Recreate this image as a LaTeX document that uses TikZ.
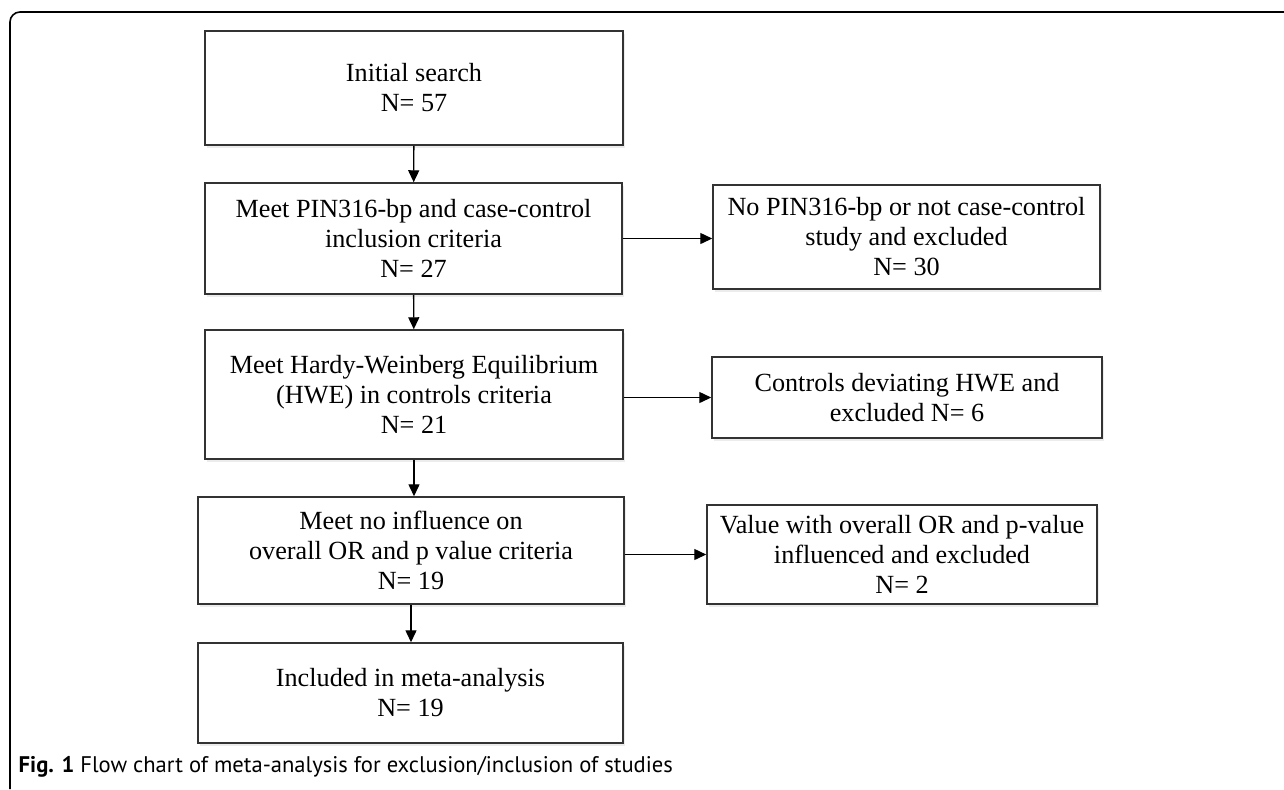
\documentclass[tikz,border=0pt]{standalone}
\usepackage{fontspec}
\setmainfont{Liberation Serif}
\setsansfont{PT Sans}
\usepackage{tikz}
\usetikzlibrary{arrows.meta,shadows}
\tikzset{
  fcnode/.style = {align=center, inner sep=0pt, text centered,
    font=\fontsize{13.1}{15}\selectfont},
  fc_main/.style = {fcnode, rectangle, draw=black!80, line width=0.75pt,
    fill=white, drop shadow={shadow xshift=1pt, shadow yshift=-1.5pt,
    opacity=0.15}},% etape retenue
  fc_excl/.style = {fc_main}% etape exclue
}
\begin{document}
\begin{tikzpicture}[x=0.5pt,y=-0.5pt,->,>={Triangle[length=6pt,width=5.5pt]},
  line width=0.7pt]
\useasboundingbox (0,0) rectangle (1284,789);
\draw[-, line width=0.8pt, rounded corners=5pt] (10,789) -- (10,12) -- (1284,12);

\node [fc_main, minimum width=209pt, minimum height=57pt] (init) at (414,88)
  {Initial search\\N= 57};
\node [fc_main, minimum width=208.5pt, minimum height=55.5pt] (meet1) at (413.5,238.5)
  {Meet PIN316-bp and case-control\\inclusion criteria\\N= 27};
\node [fc_excl, minimum width=193.5pt, minimum height=52pt] (excl1) at (906.5,237)
  {No PIN316-bp or not case-control\\study and excluded\\N= 30};
\node [fc_main, minimum width=209pt, minimum height=64.5pt] (meet2) at (414,394.5)
  {Meet Hardy-Weinberg Equilibrium\\(HWE) in controls criteria\\N= 21};
\node [fc_excl, minimum width=195pt, minimum height=40.5pt] (excl2) at (907,397.5)
  {Controls deviating HWE and\\excluded N= 6};
\node [fc_main, minimum width=213pt, minimum height=53.5pt] (meet3) at (411,550.5)
  {Meet no influence on\\overall OR and p value criteria\\N= 19};
\node [fc_excl, minimum width=195pt, minimum height=49.5pt] (excl3) at (902,554.5)
  {Value with overall OR and p-value\\influenced and excluded\\N= 2};
\node [fc_main, minimum width=212.5pt, minimum height=50pt] (incl) at (410.5,693)
  {Included in meta-analysis\\N= 19};

\draw (init) -- (meet1);
\draw (meet1) -- (meet2);
\draw (meet2) -- (meet2 |- meet3.north);
\draw (meet3) -- (meet3 |- incl.north);
\draw (meet1) -- (meet1 -| excl1.west);
\draw (excl2 -| meet2.east) -- (excl2);
\draw (excl3 -| meet3.east) -- (excl3);

\node [anchor=west, inner sep=0pt, font=\sffamily\fontsize{11.3}{13}\selectfont] (cap)
  at (18,767) {\textbf{Fig. 1} Flow chart of meta-analysis for exclusion/inclusion of studies};
\end{tikzpicture}
\end{document}
